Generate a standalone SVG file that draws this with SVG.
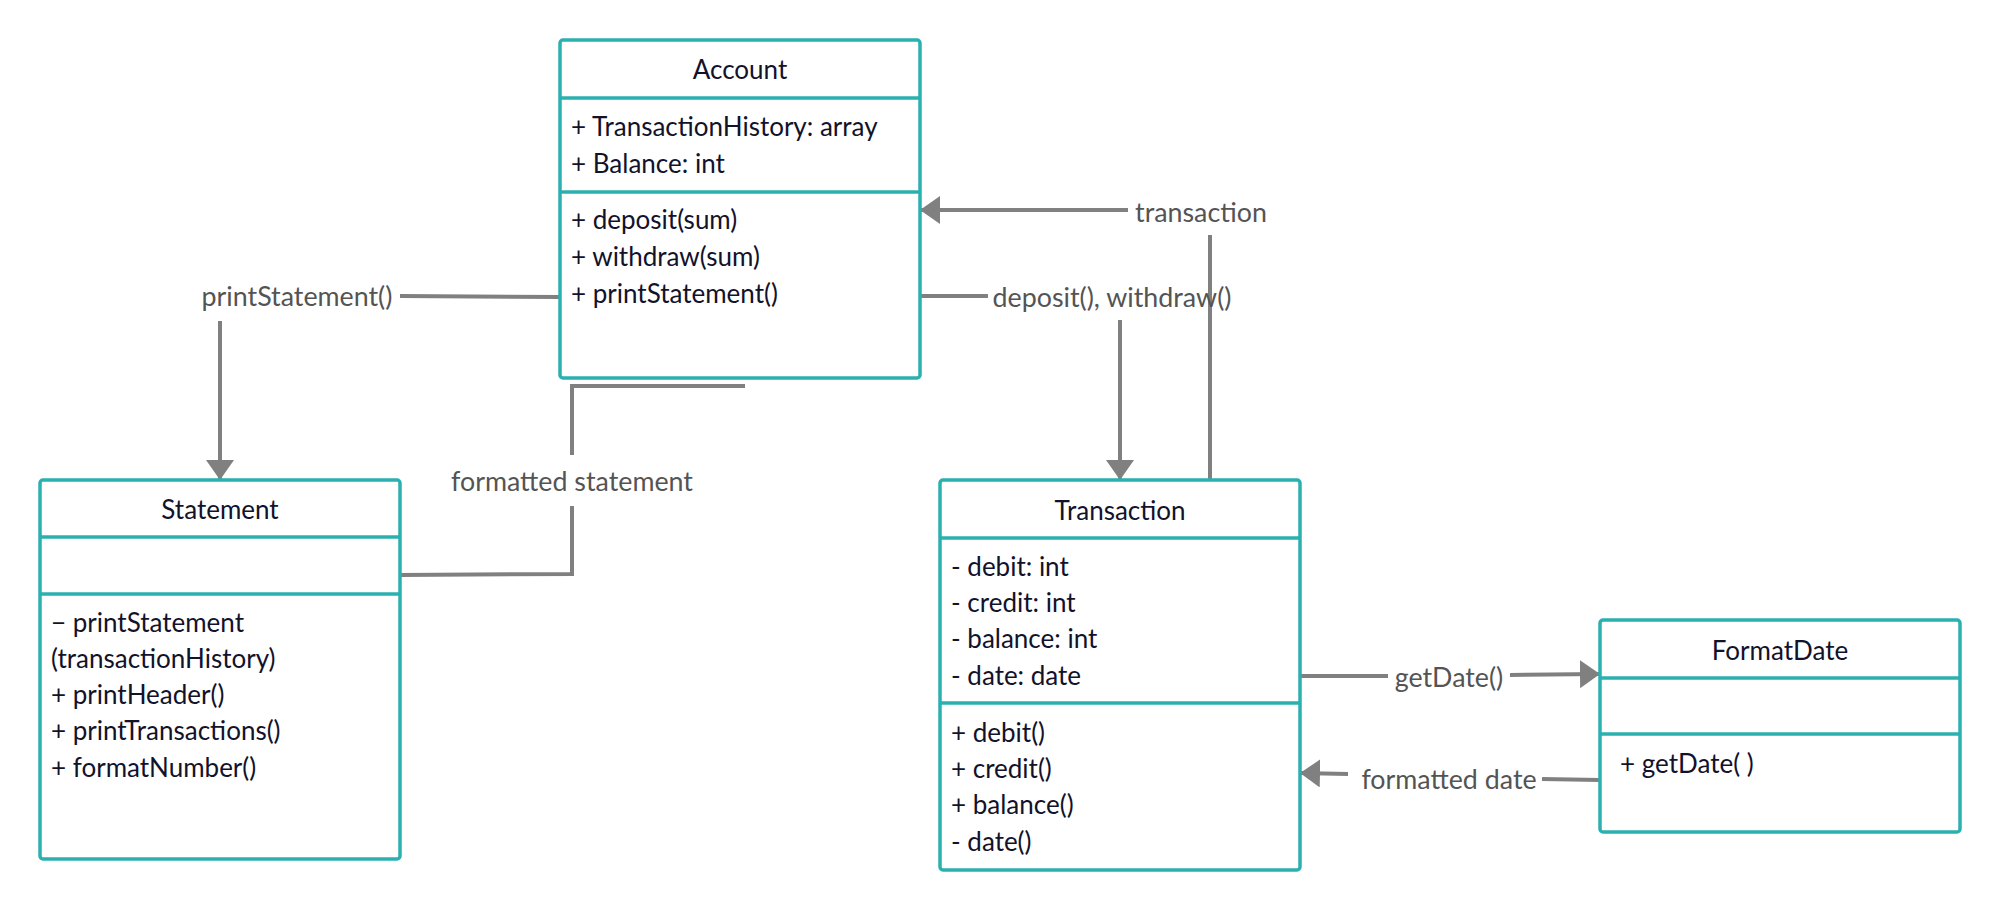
<svg xmlns="http://www.w3.org/2000/svg" width="2000" height="910" viewBox="0 0 2000 910">
<defs>
<style>
.box{fill:#ffffff;stroke:#2AB0AE;stroke-width:3.5}
.div{stroke:#2AB0AE;stroke-width:3.5}
.t{font-family:Lato,"Open Sans","Liberation Sans",sans-serif;font-size:26px;fill:#12122b}
.title{text-anchor:middle}
.lbl{font-family:Lato,"Open Sans","Liberation Sans",sans-serif;font-size:26.8px;fill:#545454;text-anchor:middle}
.c{fill:none;stroke:#808080;stroke-width:4}
</style>
<marker id="arr" viewBox="0 0 10 14" refX="10" refY="7" markerWidth="5" markerHeight="7" markerUnits="strokeWidth" orient="auto">
<path d="M0,0 L10,7 L0,14 Z" fill="#808080"/>
</marker>
</defs>
<rect width="2000" height="910" fill="#ffffff"/>

<g id="connectors">
  <!-- printStatement() -->
  <path class="c" d="M560,297 L400,296"/>
  <path class="c" d="M220,321 L220,480" marker-end="url(#arr)"/>
  <!-- formatted statement -->
  <path class="c" d="M400,575 L572,574 L572,506"/>
  <path class="c" d="M572,455 L572,386 L745,386"/>
  <!-- deposit(), withdraw() -->
  <path class="c" d="M920,296 L988,296"/>
  <path class="c" d="M1120,320 L1120,480" marker-end="url(#arr)"/>
  <!-- transaction -->
  <path class="c" d="M1210,480 L1210,235"/>
  <path class="c" d="M1128,210 L920,210" marker-end="url(#arr)"/>
  <!-- getDate() -->
  <path class="c" d="M1300,676 L1388,676"/>
  <path class="c" d="M1510,675 L1600,674" marker-end="url(#arr)"/>
  <!-- formatted date -->
  <path class="c" d="M1600,780 L1542,779"/>
  <path class="c" d="M1348,774 L1300,773" marker-end="url(#arr)"/>
  <text class="lbl" x="297" y="306">printStatement()</text>
  <text class="lbl" x="572" y="491">formatted statement</text>
  <text class="lbl" x="1112" y="307">deposit(), withdraw()</text>
  <text class="lbl" x="1201" y="222">transaction</text>
  <text class="lbl" x="1449" y="687">getDate()</text>
  <text class="lbl" x="1449" y="789">formatted date</text>
</g>

<g id="account">
  <rect class="box" x="560" y="40" width="360" height="338" rx="3"/>
  <line class="div" x1="560" y1="98" x2="920" y2="98"/>
  <line class="div" x1="560" y1="192" x2="920" y2="192"/>
  <text class="t title" x="740" y="79">Account</text>
  <text class="t" x="571" y="136">+ TransactionHistory: array</text>
  <text class="t" x="571" y="173">+ Balance: int</text>
  <text class="t" x="571" y="229">+ deposit(sum)</text>
  <text class="t" x="571" y="266">+ withdraw(sum)</text>
  <text class="t" x="571" y="303">+ printStatement()</text>
</g>

<g id="statement">
  <rect class="box" x="40" y="480" width="360" height="379" rx="3"/>
  <line class="div" x1="40" y1="537" x2="400" y2="537"/>
  <line class="div" x1="40" y1="594" x2="400" y2="594"/>
  <text class="t title" x="220" y="519">Statement</text>
  <text class="t" x="51" y="632">− printStatement</text>
  <text class="t" x="51" y="668">(transactionHistory)</text>
  <text class="t" x="51" y="704">+ printHeader()</text>
  <text class="t" x="51" y="740">+ printTransactions()</text>
  <text class="t" x="51" y="777">+ formatNumber()</text>
</g>

<g id="transaction">
  <rect class="box" x="940" y="480" width="360" height="390" rx="3"/>
  <line class="div" x1="940" y1="538" x2="1300" y2="538"/>
  <line class="div" x1="940" y1="703" x2="1300" y2="703"/>
  <text class="t title" x="1120" y="520">Transaction</text>
  <text class="t" x="951" y="576">- debit: int</text>
  <text class="t" x="951" y="612">- credit: int</text>
  <text class="t" x="951" y="648">- balance: int</text>
  <text class="t" x="951" y="685">- date: date</text>
  <text class="t" x="951" y="742">+ debit()</text>
  <text class="t" x="951" y="778">+ credit()</text>
  <text class="t" x="951" y="814">+ balance()</text>
  <text class="t" x="951" y="851">- date()</text>
</g>

<g id="formatdate">
  <rect class="box" x="1600" y="620" width="360" height="212" rx="3"/>
  <line class="div" x1="1600" y1="678" x2="1960" y2="678"/>
  <line class="div" x1="1600" y1="734" x2="1960" y2="734"/>
  <text class="t title" x="1780" y="660">FormatDate</text>
  <text class="t" x="1620" y="773">+ getDate( )</text>
</g>
</svg>
